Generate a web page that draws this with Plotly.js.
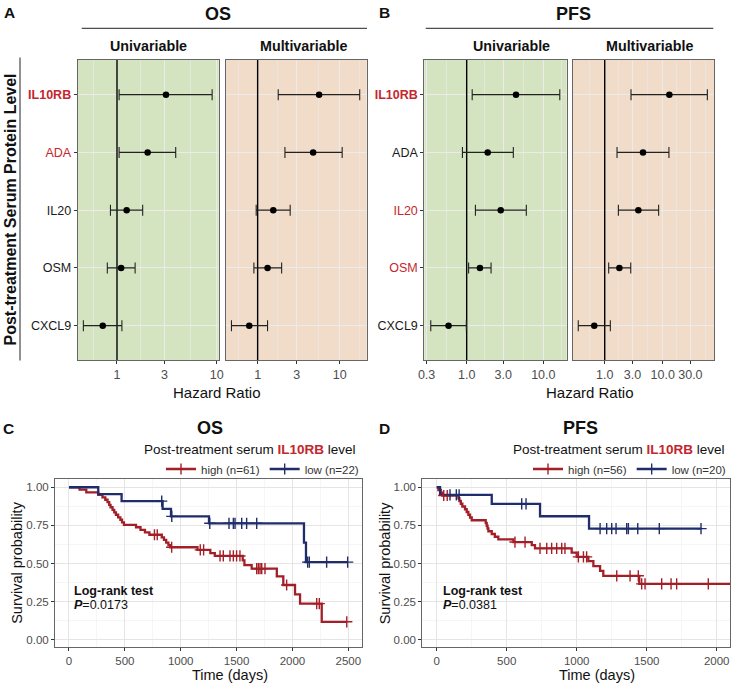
<!DOCTYPE html>
<html><head><meta charset="utf-8">
<script src="https://cdn.plot.ly/plotly-3.0.1.min.js"></script>
<style>html,body{margin:0;padding:0;background:#fff}</style>
</head><body><div id="chart" style="width:737px;height:684px"></div>
<script>
// ---------- Forest plot data (hazard ratios, 95% CI) ----------
const proteins = ['IL10RB','ADA','IL20','OSM','CXCL9'];
const osUniHR  = [3.1, 2.03, 1.25, 1.10, 0.72];
const osUniLo  = [1.05, 1.05, 0.86, 0.80, 0.46];
const osUniHi  = [9.0, 3.88, 1.81, 1.52, 1.12];
const osMultiHR = [5.6, 4.74, 1.55, 1.32, 0.79];
const osMultiLo = [1.78, 2.15, 0.96, 0.90, 0.48];
const osMultiHi = [17.5, 10.7, 2.49, 1.96, 1.32];
const pfsUniHR = [4.4, 1.88, 2.78, 1.49, 0.58];
const pfsUniLo = [1.18, 0.88, 1.30, 1.06, 0.34];
const pfsUniHi = [16.4, 4.06, 6.0, 2.08, 0.99];
const pfsMultiHR = [13.0, 4.57, 3.8, 1.79, 0.66];
const pfsMultiLo = [2.84, 1.63, 1.72, 1.17, 0.35];
const pfsMultiHi = [58.8, 12.8, 8.5, 2.81, 1.25];
const osTickVals = [1, 3, 10];
const osTickText = ['1', '3', '10'];
const pfsUniTickVals = [0.3, 1, 3, 10];
const pfsUniTickText = ['0.3', '1.0', '3.0', '10.0'];
const pfsMultiTickVals = [1, 3, 10, 30];
const pfsMultiTickText = ['1.0', '3.0', '10.0', '30.0'];
const osSigRed = ['IL10RB','ADA'];
const pfsSigRed = ['IL10RB','IL20','OSM'];

// ---------- Kaplan-Meier data ----------
const osHighT = [0,95,155,262,300,325,345,360,372,390,405,420,440,460,475,492,600,640,680,720,830,850,870,890,905,1150,1265,1305,1555,1570,1635,1860,1918,2023,2068,2262,2486];
const osHighS = [1,0.984,0.967,0.951,0.934,0.918,0.902,0.885,0.869,0.852,0.836,0.820,0.803,0.787,0.770,0.754,0.738,0.721,0.705,0.689,0.672,0.655,0.638,0.621,0.607,0.590,0.568,0.550,0.521,0.490,0.467,0.417,0.360,0.298,0.238,0.119,0.119];
const osHighCens = [765,790,919,1175,1205,1352,1381,1441,1471,1500,1530,1680,1695,1710,1725,1754,1948,2217,2240,2486];
const osLowT = [0,262,471,838,913,1253,2103,2121,2494];
const osLowS = [1,0.955,0.909,0.859,0.809,0.764,0.637,0.510,0.510];
const osLowCens = [830,920,1260,1432,1471,1486,1546,1590,1680,2136,2151,2306,2494];

const pfsHighT = [0,12,29,40,155,162,172,183,202,214,226,238,250,350,357,363,369,393,415,440,548,679,702,964,1000,1083,1119,1167,1190,1447,2150];
const pfsHighS = [1,0.982,0.964,0.946,0.928,0.910,0.892,0.874,0.856,0.838,0.820,0.802,0.784,0.766,0.748,0.730,0.712,0.694,0.676,0.658,0.641,0.621,0.600,0.572,0.544,0.516,0.484,0.452,0.420,0.367,0.367];
const pfsHighCens = [50,75,559,631,738,786,821,857,893,916,1012,1048,1071,1286,1381,1440,1464,1488,1607,1674,1714,1940];
const pfsLowT = [0,24,393,738,1088,1890];
const pfsLowS = [1,0.95,0.891,0.810,0.729,0.729];
const pfsLowCens = [95,140,160,607,638,1167,1214,1250,1281,1357,1369,1436,1590,1888];

const osLegend = ['high (n=61)', 'low (n=22)'];
const pfsLegend = ['high (n=56)', 'low (n=20)'];

// ---------- helpers ----------
const W = 737, H = 684;
const px = v => v / W;
const py = v => 1 - v / H;
const RED = '#c4262e', KRED = '#a31f27', KBLUE = '#1f2d6b';
const GREEN = '#d4e4c0', ORANGE = '#f0dcc8';
const FONT = 'Liberation Sans, Arial, Helvetica, sans-serif';
const yPos = proteins.map((p, i) => proteins.length - 1 - i);

function forestTrace(hr, lo, hi, xa, ya) {
  return {
    type: 'scatter', mode: 'markers', x: hr, y: yPos, xaxis: xa, yaxis: ya,
    marker: {color: '#000', size: 6.5},
    error_x: {type: 'data', symmetric: false,
      array: hi.map((h, i) => h - hr[i]), arrayminus: lo.map((l, i) => hr[i] - l),
      color: '#222', thickness: 1.1, width: 5.5},
    showlegend: false, hoverinfo: 'skip'
  };
}
function refLine(xa, ya) {
  return {type: 'scatter', mode: 'lines', x: [1, 1], y: [-0.6, 4.6], xaxis: xa, yaxis: ya,
    line: {color: '#000', width: 1.4}, showlegend: false, hoverinfo: 'skip'};
}
function survAt(t, T, S) {
  let v = S[0];
  for (let i = 0; i < T.length; i++) if (T[i] <= t) v = S[i];
  return v;
}
function kmLine(T, S, color, xa, ya) {
  return {type: 'scatter', mode: 'lines', x: T, y: S, xaxis: xa, yaxis: ya,
    line: {shape: 'hv', color: color, width: 2.3}, showlegend: false, hoverinfo: 'skip'};
}
function kmCens(C, T, S, color, name, xa, ya, leg) {
  const xs = [], ys = [];
  C.forEach(t => { xs.push(t, null); ys.push(survAt(t, T, S), null); });
  return {type: 'scatter', mode: 'lines+markers', x: xs, y: ys, xaxis: xa, yaxis: ya,
    connectgaps: false, name: name, legend: leg,
    line: {color: color, width: 2.3},
    marker: {symbol: 'cross-thin', size: 8, color: color, line: {color: color, width: 1.4}},
    hoverinfo: 'skip'};
}
function labelHtml(p, reds) {
  if (reds.indexOf(p) < 0) return p;
  const inner = p === 'IL10RB' ? '<b>' + p + '</b>' : p;
  return '<span style="color:' + RED + '">' + inner + '</span>';
}
function logMid(vals) { // minor grid positions between breaks (geometric midpoints)
  const out = [];
  for (let i = 0; i < vals.length - 1; i++) out.push(Math.sqrt(vals[i] * vals[i + 1]));
  return out;
}
function forestX(x0, x1, range, tv, tt, minor) {
  return {type: 'log', domain: [px(x0), px(x1)], range: range, tickmode: 'array', tickvals: tv, ticktext: tt,
    ticks: 'outside', ticklen: 3, tickcolor: '#333', tickfont: {size: 12.5, color: '#4d4d4d'},
    showgrid: true, gridcolor: '#ebebeb', gridwidth: 1,
    minor: {tickmode: 'array', tickvals: minor, showgrid: true, gridcolor: '#ebebeb', gridwidth: 0.6, ticks: ''},
    showline: true, mirror: true, linecolor: '#666', linewidth: 1, zeroline: false, fixedrange: true};
}
function forestY(labels) {
  return {domain: [py(360.3), py(60)], range: [-0.6, 4.6], tickmode: 'array', tickvals: yPos,
    ticktext: labels || yPos.map(() => ''), showticklabels: !!labels,
    ticks: labels ? 'outside' : '', ticklen: 3, tickcolor: '#333',
    tickfont: {size: 12.5, color: '#1a1a1a'},
    showgrid: true, gridcolor: '#ebebeb', gridwidth: 1,
    showline: true, mirror: true, linecolor: '#666', linewidth: 1, zeroline: false, fixedrange: true};
}
function kmX(x0, x1, range, tv) {
  return {domain: [px(x0), px(x1)], range: range, tickmode: 'array', tickvals: tv,
    ticks: 'outside', ticklen: 3, tickcolor: '#333', tickfont: {size: 11.5, color: '#4d4d4d'},
    showgrid: true, gridcolor: '#e5e5e5', gridwidth: 1,
    minor: {dtick: 250, tick0: 0, showgrid: true, gridcolor: '#f0f0f0', gridwidth: 0.6, ticks: ''},
    showline: true, mirror: true, linecolor: '#666', linewidth: 1, zeroline: false, fixedrange: true};
}
function kmY() {
  return {domain: [py(647.3), py(479.3)], range: [-0.048, 1.052], tickmode: 'array',
    tickvals: [0, 0.25, 0.5, 0.75, 1], ticktext: ['0.00', '0.25', '0.50', '0.75', '1.00'],
    ticks: 'outside', ticklen: 3, tickcolor: '#333', tickfont: {size: 11.5, color: '#4d4d4d'},
    showgrid: true, gridcolor: '#e5e5e5', gridwidth: 1,
    minor: {dtick: 0.125, tick0: 0, showgrid: true, gridcolor: '#f0f0f0', gridwidth: 0.6, ticks: ''},
    showline: true, mirror: true, linecolor: '#666', linewidth: 1, zeroline: false, fixedrange: true};
}

const traces = [
  refLine('x', 'y'), forestTrace(osUniHR, osUniLo, osUniHi, 'x', 'y'),
  refLine('x2', 'y2'), forestTrace(osMultiHR, osMultiLo, osMultiHi, 'x2', 'y2'),
  refLine('x3', 'y3'), forestTrace(pfsUniHR, pfsUniLo, pfsUniHi, 'x3', 'y3'),
  refLine('x4', 'y4'), forestTrace(pfsMultiHR, pfsMultiLo, pfsMultiHi, 'x4', 'y4'),
  kmLine(osHighT, osHighS, KRED, 'x5', 'y5'),
  kmLine(osLowT, osLowS, KBLUE, 'x5', 'y5'),
  kmCens(osHighCens, osHighT, osHighS, KRED, osLegend[0], 'x5', 'y5', 'legend'),
  kmCens(osLowCens, osLowT, osLowS, KBLUE, osLegend[1], 'x5', 'y5', 'legend'),
  kmLine(pfsHighT, pfsHighS, KRED, 'x6', 'y6'),
  kmLine(pfsLowT, pfsLowS, KBLUE, 'x6', 'y6'),
  kmCens(pfsHighCens, pfsHighT, pfsHighS, KRED, pfsLegend[0], 'x6', 'y6', 'legend2'),
  kmCens(pfsLowCens, pfsLowT, pfsLowS, KBLUE, pfsLegend[1], 'x6', 'y6', 'legend2')
];

function bg(xa, ya, color) {
  return {type: 'rect', xref: xa + ' domain', yref: ya + ' domain', x0: 0, x1: 1, y0: 0, y1: 1,
    fillcolor: color, line: {width: 0}, layer: 'below'};
}
function pline(x0, y0, x1, y1) {
  return {type: 'line', xref: 'paper', yref: 'paper', x0: px(x0), x1: px(x1), y0: py(y0), y1: py(y1),
    line: {color: '#222', width: 1}};
}
function ann(text, x, y, size, opts) {
  return Object.assign({text: text, xref: 'paper', yref: 'paper', x: px(x), y: py(y), showarrow: false,
    xanchor: 'center', yanchor: 'middle', font: {size: size, color: '#111', family: FONT}}, opts || {});
}

const legendBase = {orientation: 'h', yanchor: 'middle', xanchor: 'right', font: {size: 11.5, color: '#333', family: FONT},
  bgcolor: 'rgba(0,0,0,0)', itemwidth: 30, traceorder: 'normal', tracegroupgap: 0};

const layout = {
  width: W, height: H, margin: {l: 0, r: 0, t: 0, b: 0}, autosize: false,
  paper_bgcolor: '#fff', plot_bgcolor: 'rgba(0,0,0,0)',
  font: {family: FONT, color: '#111'},
  showlegend: true,
  legend: Object.assign({x: px(364), y: py(469)}, legendBase),
  legend2: Object.assign({x: px(731), y: py(469)}, legendBase),
  xaxis: forestX(77.7, 218.7, [-0.394, 1.02], osTickVals, osTickText, logMid([0.333, 1, 3, 10])),
  yaxis: Object.assign(forestY(proteins.map(p => labelHtml(p, osSigRed))), {anchor: 'x'}),
  xaxis2: Object.assign(forestX(225.7, 366.7, [-0.389, 1.328], osTickVals, osTickText, logMid([0.333, 1, 3, 10, 30])), {anchor: 'y2'}),
  yaxis2: Object.assign(forestY(null), {anchor: 'x2'}),
  xaxis3: Object.assign(forestX(424.3, 566.7, [-0.553, 1.305], pfsUniTickVals, pfsUniTickText, logMid([0.3, 1, 3, 10, 30])), {anchor: 'y3'}),
  yaxis3: Object.assign(forestY(proteins.map(p => labelHtml(p, pfsSigRed))), {anchor: 'x3'}),
  xaxis4: Object.assign(forestX(572.7, 714, [-0.552, 1.884], pfsMultiTickVals, pfsMultiTickText, logMid([0.3, 1, 3, 10, 30, 100])), {anchor: 'y4'}),
  yaxis4: Object.assign(forestY(null), {anchor: 'x4'}),
  xaxis5: Object.assign(kmX(55, 362.3, [-125, 2625], [0, 500, 1000, 1500, 2000, 2500]), {anchor: 'y5'}),
  yaxis5: Object.assign(kmY(), {anchor: 'x5'}),
  xaxis6: Object.assign(kmX(422.3, 730, [-103, 2095], [0, 500, 1000, 1500, 2000]), {anchor: 'y6'}),
  yaxis6: Object.assign(kmY(), {anchor: 'x6'}),
  shapes: [
    bg('x', 'y', GREEN), bg('x2', 'y2', ORANGE), bg('x3', 'y3', GREEN), bg('x4', 'y4', ORANGE),
    pline(81.7, 28.3, 367, 28.3), pline(425.7, 28.3, 713.3, 28.3), pline(20, 57.5, 20, 360.5)
  ],
  annotations: [
    ann('<b>A</b>', 9.5, 12.7, 15.5), ann('<b>B</b>', 385, 12.7, 15.5),
    ann('<b>OS</b>', 218.3, 14, 18), ann('<b>PFS</b>', 573.3, 14, 18),
    ann('<b>Univariable</b>', 148.3, 45.7, 14.3), ann('<b>Multivariable</b>', 303, 45.7, 14.3),
    ann('<b>Univariable</b>', 511.7, 45.7, 14.3), ann('<b>Multivariable</b>', 649.2, 45.7, 14.3),
    ann('<b>Post-treatment Serum Protein Level</b>', 9.5, 210, 16, {textangle: -90}),
    ann('Hazard Ratio', 217, 392, 15), ann('Hazard Ratio', 590, 392, 15),
    ann('<b>C</b>', 8.3, 428.3, 15.5), ann('<b>D</b>', 385, 428.3, 15.5),
    ann('<b>OS</b>', 210, 428.3, 18), ann('<b>PFS</b>', 580, 428.3, 18),
    ann('Post-treatment serum <span style="color:' + RED + '"><b>IL10RB</b></span> level', 358, 449, 13.5, {xanchor: 'right'}),
    ann('Post-treatment serum <span style="color:' + RED + '"><b>IL10RB</b></span> level', 726.7, 449, 13.5, {xanchor: 'right'}),
    ann('Survival probability', 17.5, 563.3, 14.5, {textangle: -90}),
    ann('Survival probability', 385, 563.3, 14.5, {textangle: -90}),
    ann('Time (days)', 230, 674.5, 14.5), ann('Time (days)', 596.7, 674.5, 14.5),
    ann('<b>Log-rank test</b>', 71.7, 590.5, 12.5, {xanchor: 'left'}),
    ann('<b><i>P</i></b>=0.0173', 71.7, 605, 12.5, {xanchor: 'left'}),
    ann('<b>Log-rank test</b>', 440.7, 590.5, 12.5, {xanchor: 'left'}),
    ann('<b><i>P</i></b>=0.0381', 440.7, 605, 12.5, {xanchor: 'left'})
  ]
};

Plotly.newPlot('chart', traces, layout, {displayModeBar: false, staticPlot: true});
</script>
</body></html>
